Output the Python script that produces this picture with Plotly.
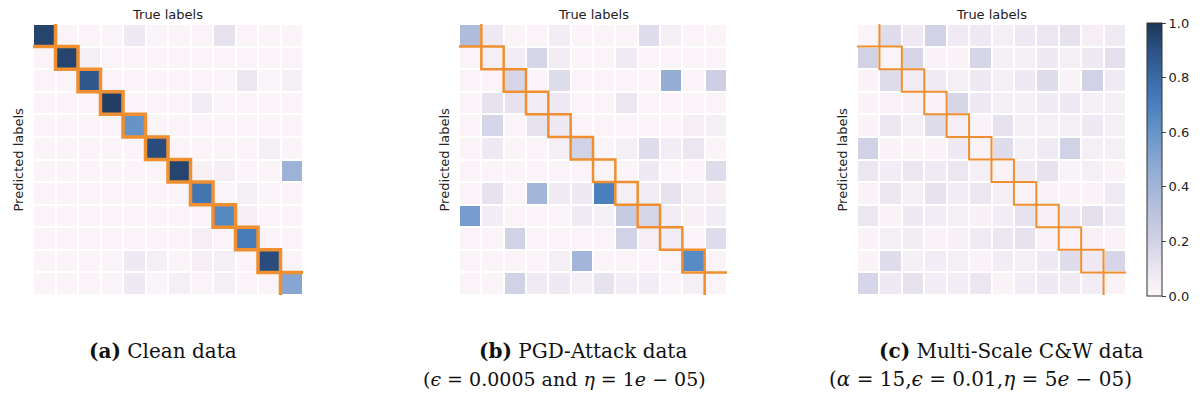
import plotly.graph_objects as go

labels = list(range(12))

clean = [
    [0.95, 0.01, 0.01, 0.01, 0.08, 0.01, 0.01, 0.01, 0.12, 0.01, 0.01, 0.01],
    [0.01, 0.95, 0.05, 0.01, 0.01, 0.01, 0.01, 0.01, 0.01, 0.01, 0.01, 0.01],
    [0.01, 0.01, 0.88, 0.01, 0.01, 0.01, 0.01, 0.01, 0.01, 0.10, 0.01, 0.05],
    [0.01, 0.01, 0.01, 0.97, 0.01, 0.01, 0.01, 0.06, 0.01, 0.01, 0.01, 0.01],
    [0.01, 0.01, 0.01, 0.01, 0.60, 0.01, 0.01, 0.01, 0.01, 0.01, 0.01, 0.01],
    [0.01, 0.01, 0.01, 0.01, 0.01, 0.92, 0.01, 0.01, 0.01, 0.01, 0.05, 0.01],
    [0.01, 0.01, 0.01, 0.01, 0.01, 0.01, 0.95, 0.03, 0.04, 0.01, 0.01, 0.42],
    [0.01, 0.01, 0.01, 0.01, 0.01, 0.01, 0.01, 0.75, 0.01, 0.05, 0.01, 0.01],
    [0.01, 0.01, 0.01, 0.01, 0.01, 0.01, 0.01, 0.01, 0.66, 0.04, 0.01, 0.01],
    [0.01, 0.01, 0.01, 0.01, 0.01, 0.01, 0.01, 0.04, 0.01, 0.72, 0.01, 0.01],
    [0.01, 0.01, 0.01, 0.01, 0.08, 0.05, 0.01, 0.04, 0.05, 0.01, 0.92, 0.01],
    [0.01, 0.01, 0.01, 0.01, 0.08, 0.01, 0.05, 0.01, 0.05, 0.01, 0.01, 0.50],
]

pgd = [
    [0.35, 0.08, 0.01, 0.01, 0.06, 0.01, 0.01, 0.01, 0.15, 0.05, 0.01, 0.01],
    [0.01, 0.05, 0.06, 0.18, 0.06, 0.01, 0.01, 0.07, 0.01, 0.01, 0.01, 0.01],
    [0.01, 0.01, 0.18, 0.01, 0.15, 0.01, 0.01, 0.01, 0.01, 0.45, 0.01, 0.22],
    [0.01, 0.12, 0.12, 0.06, 0.08, 0.01, 0.01, 0.10, 0.01, 0.01, 0.01, 0.01],
    [0.01, 0.18, 0.01, 0.12, 0.08, 0.01, 0.01, 0.01, 0.01, 0.01, 0.04, 0.05],
    [0.01, 0.08, 0.01, 0.01, 0.05, 0.20, 0.01, 0.05, 0.15, 0.06, 0.10, 0.01],
    [0.01, 0.01, 0.01, 0.01, 0.01, 0.01, 0.01, 0.01, 0.08, 0.01, 0.01, 0.15],
    [0.01, 0.12, 0.01, 0.40, 0.07, 0.08, 0.70, 0.05, 0.06, 0.12, 0.05, 0.04],
    [0.55, 0.06, 0.01, 0.01, 0.01, 0.07, 0.05, 0.25, 0.18, 0.06, 0.03, 0.06],
    [0.01, 0.01, 0.20, 0.01, 0.01, 0.01, 0.01, 0.20, 0.04, 0.06, 0.01, 0.15],
    [0.01, 0.01, 0.01, 0.01, 0.05, 0.40, 0.01, 0.01, 0.01, 0.01, 0.65, 0.01],
    [0.01, 0.01, 0.20, 0.07, 0.08, 0.05, 0.12, 0.06, 0.06, 0.01, 0.05, 0.01],
]

cw = [
    [0.01, 0.15, 0.08, 0.20, 0.07, 0.08, 0.05, 0.08, 0.10, 0.12, 0.04, 0.07],
    [0.20, 0.01, 0.18, 0.02, 0.02, 0.18, 0.05, 0.05, 0.08, 0.04, 0.08, 0.13],
    [0.02, 0.15, 0.06, 0.07, 0.05, 0.08, 0.05, 0.08, 0.15, 0.02, 0.20, 0.07],
    [0.02, 0.02, 0.03, 0.02, 0.18, 0.08, 0.05, 0.05, 0.07, 0.08, 0.05, 0.05],
    [0.02, 0.10, 0.05, 0.15, 0.05, 0.02, 0.12, 0.05, 0.05, 0.05, 0.08, 0.05],
    [0.20, 0.02, 0.02, 0.02, 0.08, 0.02, 0.15, 0.05, 0.07, 0.20, 0.05, 0.05],
    [0.10, 0.06, 0.10, 0.07, 0.10, 0.05, 0.02, 0.07, 0.12, 0.02, 0.05, 0.02],
    [0.02, 0.10, 0.05, 0.12, 0.06, 0.10, 0.05, 0.02, 0.02, 0.02, 0.02, 0.07],
    [0.10, 0.02, 0.08, 0.06, 0.05, 0.03, 0.06, 0.12, 0.03, 0.08, 0.13, 0.07],
    [0.02, 0.05, 0.06, 0.02, 0.03, 0.07, 0.10, 0.12, 0.02, 0.02, 0.03, 0.02],
    [0.02, 0.15, 0.05, 0.06, 0.05, 0.02, 0.06, 0.05, 0.08, 0.15, 0.08, 0.18],
    [0.18, 0.08, 0.12, 0.06, 0.06, 0.10, 0.02, 0.06, 0.08, 0.07, 0.06, 0.02],
]

captions_main = ["<b>(a)</b> Clean data", "<b>(b)</b> PGD-Attack data", "<b>(c)</b> Multi-Scale C&amp;W data"]
captions_sub = ["", "(<i>ϵ</i> = 0.0005 and <i>η</i> = 1<i>e</i> − 05)",
                "(<i>α</i> = 15,<i>ϵ</i> = 0.01,<i>η</i> = 5<i>e</i> − 05)"]
colorbar_ticks = [0.0, 0.2, 0.4, 0.6, 0.8, 1.0]

colorscale = [
    [0.0, "#fcf5f9"], [0.1, "#ebe6f0"], [0.2, "#d2d2e6"], [0.3, "#bcc3de"],
    [0.4, "#a3b5d8"], [0.5, "#86a6d1"], [0.6, "#6794c8"], [0.7, "#4a80bd"],
    [0.8, "#3a6aa6"], [0.9, "#2c5285"], [1.0, "#1d3557"],
]

# page body has an 8px default margin; shrink the figure so it fills the window
OFF = 8
W, H = 1200 - OFF, 394 - OFF
M = 4  # uniform margin inside the figure
PW, PH = W - 2 * M, H - 2 * M


def px(x):
    return (x - OFF - M) / PW


def py(y):
    return 1 - (y - OFF - M) / PH


panels_px = [(33, 303), (459, 727), (857, 1126)]
main_cx = [162.5, 583, 1011]
sub_cx = [None, 564, 980]
sub_sizes = [None, 19, 20]
top_px, bot_px = 24, 295
line_widths = [3.5, 2.5, 2]
orange = "#ef8f2f"
n = len(labels)


def outline_xy():
    xs, ys = [], []
    for i in labels:
        a, b = i - 0.5, i + 0.5
        if i == 0:
            pts = [(a, b), (b, b), (b, a)]
        elif i == n - 1:
            pts = [(a, b), (a, a), (b, a)]
        else:
            pts = [(a, a), (b, a), (b, b), (a, b), (a, a)]
        xs += [p[0] for p in pts] + [None]
        ys += [p[1] for p in pts] + [None]
    return xs, ys


fig = go.Figure()
mats = [clean, pgd, cw]
for k, (m, (x0, x1)) in enumerate(zip(mats, panels_px)):
    xa = "x" if k == 0 else f"x{k+1}"
    ya = "y" if k == 0 else f"y{k+1}"
    fig.add_trace(go.Heatmap(
        z=m, x=labels, y=labels, xaxis=xa, yaxis=ya,
        colorscale=colorscale, zmin=0, zmax=1, xgap=2, ygap=2,
        showscale=(k == 2),
        colorbar=dict(
            x=px(1147), xanchor="left", xpad=0, ypad=0, thickness=15,
            lenmode="pixels", len=273, y=py(159.5), yanchor="middle",
            tickvals=colorbar_ticks, tickformat=".1f", ticks="outside", ticklen=4,
            outlinewidth=1, outlinecolor="#333",
            tickfont=dict(family="DejaVu Sans", size=13, color="#222"),
        ) if k == 2 else None,
        hoverinfo="skip",
    ))
    ox, oy = outline_xy()
    fig.add_trace(go.Scatter(x=ox, y=oy, xaxis=xa, yaxis=ya, mode="lines",
                             line=dict(color=orange, width=line_widths[k]),
                             hoverinfo="skip", connectgaps=False))
    axkey = "xaxis" if k == 0 else f"xaxis{k+1}"
    aykey = "yaxis" if k == 0 else f"yaxis{k+1}"
    fig.update_layout({
        axkey: dict(domain=[px(x0), px(x1)], range=[-0.5, 11.5], showticklabels=False,
                    showgrid=False, zeroline=False, ticks="", anchor=ya),
        aykey: dict(domain=[py(bot_px), py(top_px)], range=[11.5, -0.5],
                    showticklabels=False, showgrid=False, zeroline=False, ticks="", anchor=xa),
    })
    cx = (x0 + x1) / 2
    fig.add_annotation(x=px(cx), y=py(15), xref="paper", yref="paper", text="True labels",
                       xanchor="center", yanchor="middle", showarrow=False,
                       font=dict(family="DejaVu Sans", size=13, color="#222"))
    fig.add_annotation(x=px(x0 - 15), y=py(159.5), xref="paper", yref="paper",
                       text="Predicted labels", textangle=-90, xanchor="center",
                       yanchor="middle", showarrow=False,
                       font=dict(family="DejaVu Sans", size=13, color="#222"))
    fig.add_annotation(x=px(main_cx[k]), y=py(351), xref="paper", yref="paper",
                       text=captions_main[k], xanchor="center", yanchor="middle",
                       showarrow=False, font=dict(family="DejaVu Serif", size=20, color="#111"))
    if captions_sub[k]:
        fig.add_annotation(x=px(sub_cx[k]), y=py(379), xref="paper", yref="paper",
                           text=captions_sub[k], xanchor="center", yanchor="middle",
                           showarrow=False,
                           font=dict(family="DejaVu Serif", size=sub_sizes[k], color="#111"))

fig.update_layout(width=W, height=H, margin=dict(l=M, r=M, t=M, b=M, autoexpand=False),
                  paper_bgcolor="white", plot_bgcolor="white", showlegend=False)
fig.write_html("out.html")
